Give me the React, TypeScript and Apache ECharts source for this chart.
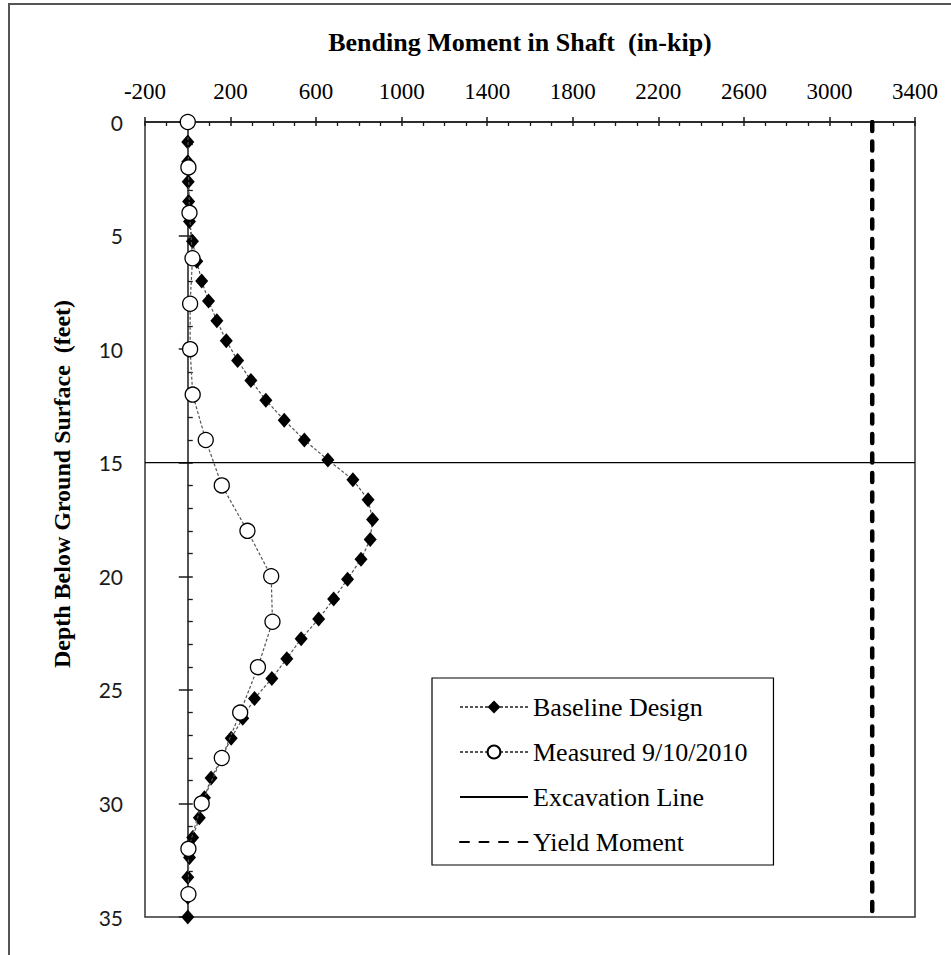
import React, { useEffect, useRef } from 'react';
import * as echarts from 'echarts';

// ---- Data ----
const xTickLabels = [-200, 200, 600, 1000, 1400, 1800, 2200, 2600, 3000, 3400];
const yTickLabels = [0, 5, 10, 15, 20, 25, 30, 35];

const baselineDepths = [
  0, 0.875, 1.75, 2.625, 3.5, 4.375, 5.25, 6.125, 7, 7.875, 8.75, 9.625, 10.5, 11.375,
  12.25, 13.125, 14, 14.875, 15.75, 16.625, 17.5, 18.375, 19.25, 20.125, 21, 21.875,
  22.75, 23.625, 24.5, 25.375, 26.25, 27.125, 28, 28.875, 29.75, 30.625, 31.5, 32.375,
  33.25, 34.125, 35,
];
const baselineMoments = [
  0, 0, 0, 2, 4, 8, 22, 42, 65, 97, 136, 180, 233, 295, 365, 451, 545, 655, 772, 843,
  864, 853, 810, 747, 682, 612, 530, 463, 393, 312, 257, 203, 160, 109, 78, 54, 23, 8,
  0, 0, 0,
];

const measuredDepths = [0, 2, 4, 6, 8, 10, 12, 14, 16, 18, 20, 22, 24, 26, 28, 30, 32, 34];
const measuredMoments = [0, 3, 8, 22, 11, 11, 23, 84, 159, 279, 390, 396, 328, 245, 159, 65, 3, 3];

const excavationDepth = 15;
const yieldMoment = 3200;

const seriesNames = ['Baseline Design', 'Measured 9/10/2010', 'Excavation Line', 'Yield Moment'];

const X_MIN = xTickLabels[0];
const X_MAX = xTickLabels[xTickLabels.length - 1];
const Y_MIN = yTickLabels[0];
const Y_MAX = yTickLabels[yTickLabels.length - 1];

const serif = '"Liberation Serif", "Times New Roman", serif';
const ink = '#1a1a1a';

export default function App() {
  const ref = useRef<HTMLDivElement>(null);

  useEffect(() => {
    if (!ref.current) return;
    const chart = echarts.init(ref.current, null, { renderer: 'svg' });

    const xBase = {
      type: 'value' as const,
      position: 'top' as const,
      min: X_MIN,
      max: X_MAX,
      interval: 400,
      splitLine: { show: false },
    };
    const yBase = {
      type: 'value' as const,
      inverse: true,
      position: 'left' as const,
      min: Y_MIN,
      max: Y_MAX,
      interval: 5,
      splitLine: { show: false },
    };

    const option = {
      animation: false,
      backgroundColor: '#fff',
      grid: {
        left: 145,
        top: 122,
        right: 36,
        bottom: 38,
        show: true,
        borderColor: '#333',
        borderWidth: 1.5,
        backgroundColor: 'transparent',
      },
      xAxis: [
        {
          ...xBase,
          axisLine: { show: true, onZero: false, lineStyle: { color: ink, width: 1.5 } },
          axisTick: { show: true, inside: false, length: 5, lineStyle: { color: ink, width: 1.5 } },
          axisLabel: {
            fontFamily: serif,
            fontSize: 23,
            color: '#000',
            margin: 19,
            formatter: (v: number) => String(v),
          },
        },
        {
          ...xBase,
          axisLine: { show: false, onZero: false },
          axisTick: { show: true, inside: true, length: 4, lineStyle: { color: ink, width: 1.5 } },
          minorTick: { show: true, splitNumber: 4, length: 4, lineStyle: { color: ink, width: 1.3 } },
          axisLabel: { show: false },
        },
      ],
      yAxis: [
        {
          ...yBase,
          axisLine: { show: false, onZero: false },
          axisTick: { show: false },
          axisLabel: {
            fontFamily: 'Lato, "Open Sans", sans-serif',
            fontSize: 21,
            color: '#1a1a1a',
            margin: 22,
            formatter: (v: number) => String(v),
          },
        },
        {
          ...yBase,
          axisLine: { show: true, onZero: true, onZeroAxisIndex: 0, lineStyle: { color: ink, width: 1.5 } },
          axisTick: { show: true, inside: true, length: 5, lineStyle: { color: ink, width: 1.5 } },
          minorTick: { show: true, splitNumber: 5, length: 5, lineStyle: { color: ink, width: 1.3 } },
          axisLabel: { show: false },
        },
        {
          ...yBase,
          axisLine: { show: false, onZero: true, onZeroAxisIndex: 0 },
          axisTick: { show: true, inside: false, length: 9, lineStyle: { color: ink, width: 1.5 } },
          axisLabel: { show: false },
        },
      ],
      legend: {
        orient: 'vertical',
        left: 432,
        top: 678,
        data: [
          { name: seriesNames[0] },
          { name: seriesNames[1] },
          { name: seriesNames[2], itemStyle: { opacity: 0 } },
          { name: seriesNames[3], itemStyle: { opacity: 0 } },
        ],
        itemWidth: 68,
        itemHeight: 16,
        itemGap: 19,
        padding: [16, 26, 10, 27],
        borderColor: '#000',
        borderWidth: 1.2,
        backgroundColor: '#fff',
        selectedMode: false,
        textStyle: { fontFamily: serif, fontSize: 26, color: '#000', lineHeight: 26 },
      },
      graphic: [
        {
          type: 'rect',
          shape: { x: 9, y: 4, width: 960, height: 970 },
          style: { fill: 'none', stroke: '#555', lineWidth: 2 },
          silent: true,
        },
        {
          type: 'text',
          x: 520,
          y: 42,
          style: {
            text: 'Bending Moment in Shaft  (in-kip)',
            fontFamily: serif,
            fontSize: 26,
            fontWeight: 'bold',
            fill: '#000',
            align: 'center',
            verticalAlign: 'middle',
          },
        },
        {
          type: 'text',
          x: 62,
          y: 484,
          rotation: Math.PI / 2,
          style: {
            text: 'Depth Below Ground Surface  (feet)',
            fontFamily: serif,
            fontSize: 24,
            fontWeight: 'bold',
            fill: '#000',
            align: 'center',
            verticalAlign: 'middle',
          },
        },
      ],
      series: [
        {
          name: seriesNames[0],
          type: 'line',
          xAxisIndex: 0,
          yAxisIndex: 0,
          data: baselineMoments.map((m, i) => [m, baselineDepths[i]]),
          symbol: 'diamond',
          symbolSize: [13, 15],
          itemStyle: { color: '#000' },
          lineStyle: { color: '#555', width: 1.2, type: [3, 2] },
          z: 3,
        },
        {
          name: seriesNames[1],
          type: 'line',
          xAxisIndex: 0,
          yAxisIndex: 0,
          data: measuredMoments.map((m, i) => [m, measuredDepths[i]]),
          symbol: 'circle',
          symbolSize: 15,
          itemStyle: { color: '#fff', borderColor: '#000', borderWidth: 1.3 },
          lineStyle: { color: '#555', width: 1.2, type: [3, 2] },
          z: 4,
        },
        {
          name: seriesNames[2],
          type: 'line',
          xAxisIndex: 0,
          yAxisIndex: 0,
          data: [
            [X_MIN, excavationDepth],
            [X_MAX, excavationDepth],
          ],
          symbol: 'circle',
          showSymbol: false,
          itemStyle: { color: '#000' },
          lineStyle: { color: '#000', width: 1.2, type: 'solid' },
          z: 2,
        },
        {
          name: seriesNames[3],
          type: 'line',
          xAxisIndex: 0,
          yAxisIndex: 0,
          data: [
            [yieldMoment, Y_MIN],
            [yieldMoment, Y_MAX],
          ],
          symbol: 'circle',
          showSymbol: false,
          itemStyle: { color: '#000' },
          lineStyle: { color: '#000', width: 4.5, type: [9, 10.5], cap: 'round' },
          z: 2,
        },
      ],
    };

    chart.setOption(option as any);
    return () => chart.dispose();
  }, []);

  return (
    <div
      ref={ref}
      style={{ position: 'absolute', left: 0, top: 0, width: 951, height: 955, background: '#fff' }}
    />
  );
}
